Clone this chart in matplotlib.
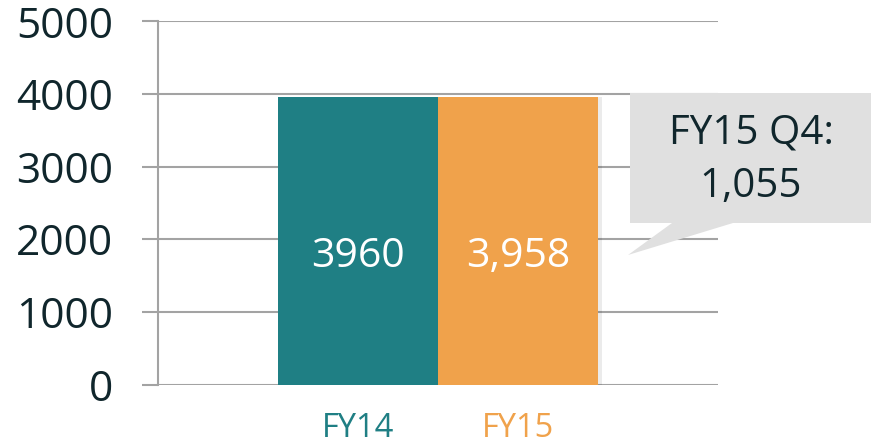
import numpy as np
import matplotlib
matplotlib.use("Agg")
import matplotlib.pyplot as plt
from matplotlib.patches import Polygon

# data
categories = ["FY14", "FY15"]
values = [3960, 3958]
value_labels = ["3960", "3,958"]
callout_text = "FY15 Q4:\n1,055"
yticks = [0, 1000, 2000, 3000, 4000, 5000]

teal = "#1f7f84"
orange = "#f0a24b"
dark = "#10262c"
grid = "#a3a3a3"
colors = [teal, orange]

plt.rcParams["font.family"] = ["Open Sans", "DejaVu Sans"]

W, H = 871, 444
fig = plt.figure(figsize=(W / 100, H / 100), dpi=100)
# axes spans spine (x=158) to grid end (x=718), y=0 at 384.5, y=5000 at 21.5
ax = fig.add_axes([158 / W, (H - 384.5) / H, 560 / W, 363 / H])

x = np.arange(len(categories))
# faint shadow behind bars
ax.bar(x + 0.025, values, width=1.0, color="#000000", alpha=0.08, zorder=2)
bars = ax.bar(x, values, width=1.0, color=colors, zorder=3)

for xi, v, lab in zip(x, values, value_labels):
    ax.text(xi, v * 0.445, lab, color="white", fontsize=29.5,
            ha="center", va="center", zorder=4)

ax.set_xlim(-1.25, 2.25)
ax.set_ylim(0, 5000)
ax.set_yticks(yticks)
ax.set_yticklabels([str(t) for t in yticks], fontsize=30.5, color=dark)
ax.yaxis.grid(True, color=grid, lw=1.5, zorder=1)
ax.tick_params(axis="y", length=11.5, width=1.5, color=grid, pad=21)

ax.set_xticks(x)
ax.set_xticklabels(categories, fontsize=23.5)
for lbl, c in zip(ax.get_xticklabels(), colors):
    lbl.set_color(c)
ax.tick_params(axis="x", length=0, pad=20)

for side in ["top", "right", "bottom"]:
    ax.spines[side].set_visible(False)
ax.spines["left"].set_color(grid)
ax.spines["left"].set_linewidth(1.5)
ax.set_axisbelow(True)

# callout box with pointer (figure pixel coords, y from top)
pts = [(630, 93), (871, 93), (871, 223), (733, 223), (628, 255), (672, 223), (630, 223)]
poly = Polygon([(px / W, (H - py) / H) for px, py in pts], closed=True,
               transform=fig.transFigure, facecolor="#e0e0e0", edgecolor="none", zorder=5)
fig.patches.append(poly)
fig.text(751 / W, (H - 160) / H, callout_text, fontsize=29, color=dark,
         ha="center", va="center", linespacing=1.45, zorder=6)

fig.savefig("out.png", dpi=100)
